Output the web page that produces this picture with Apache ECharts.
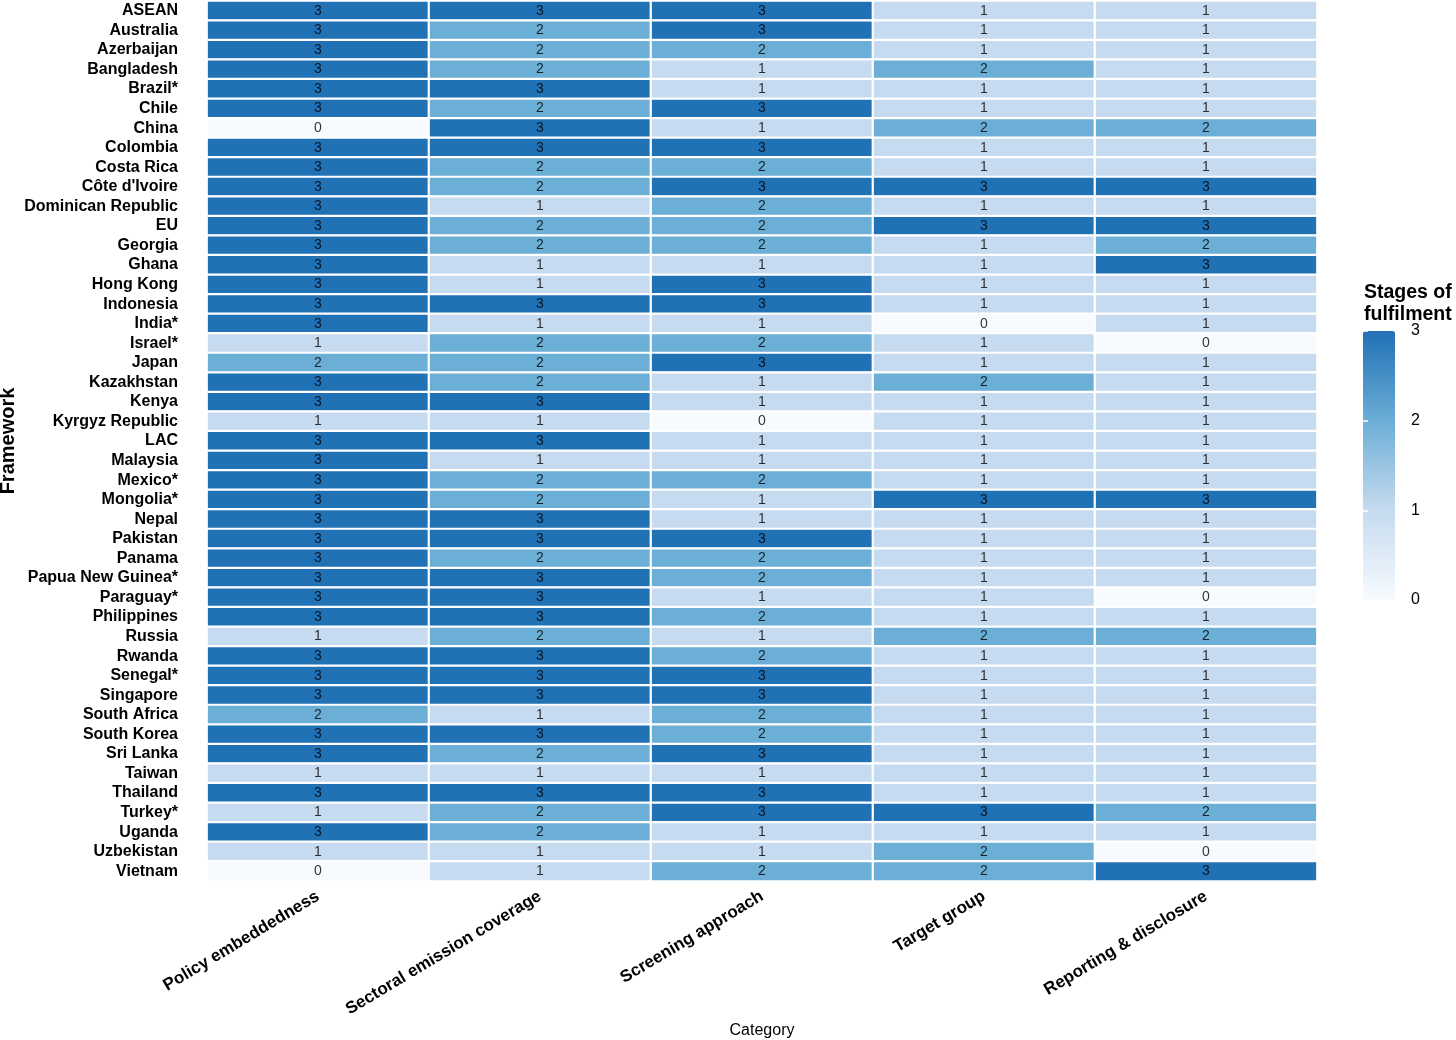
<!DOCTYPE html>
<html>
<head>
<meta charset="utf-8">
<title>Stages of fulfilment</title>
<script src="https://cdn.jsdelivr.net/npm/echarts@6/dist/echarts.min.js"></script>
<style>
    html, body { margin: 0; padding: 0; background: #fff; }
    #chart { width: 1456px; height: 1040px; }
</style>
</head>
<body>
<div id="chart"></div>
<script>
// categories on the x axis
var categories = ['Policy embeddedness', 'Sectoral emission coverage', 'Screening approach', 'Target group', 'Reporting & disclosure'];

// frameworks, top to bottom
var frameworks = ['ASEAN', 'Australia', 'Azerbaijan', 'Bangladesh', 'Brazil*', 'Chile', 'China', 'Colombia', 'Costa Rica',
    "Côte d'Ivoire", 'Dominican Republic', 'EU', 'Georgia', 'Ghana', 'Hong Kong', 'Indonesia', 'India*', 'Israel*', 'Japan',
    'Kazakhstan', 'Kenya', 'Kyrgyz Republic', 'LAC', 'Malaysia', 'Mexico*', 'Mongolia*', 'Nepal', 'Pakistan', 'Panama',
    'Papua New Guinea*', 'Paraguay*', 'Philippines', 'Russia', 'Rwanda', 'Senegal*', 'Singapore', 'South Africa',
    'South Korea', 'Sri Lanka', 'Taiwan', 'Thailand', 'Turkey*', 'Uganda', 'Uzbekistan', 'Vietnam'];

// one array per category, same order as frameworks
var policyEmbeddedness = [3,3,3,3,3,3,0,3,3,3,3,3,3,3,3,3,3,1,2,3,3,1,3,3,3,3,3,3,3,3,3,3,1,3,3,3,2,3,3,1,3,1,3,1,0];
var sectoralCoverage   = [3,2,2,2,3,2,3,3,2,2,1,2,2,1,1,3,1,2,2,2,3,1,3,1,2,2,3,3,2,3,3,3,2,3,3,3,1,3,2,1,3,2,2,1,1];
var screeningApproach  = [3,3,2,1,1,3,1,3,2,3,2,2,2,1,3,3,1,2,3,1,1,0,1,1,2,1,1,3,2,2,1,2,1,2,3,3,2,2,3,1,3,3,1,1,2];
var targetGroup        = [1,1,1,2,1,1,2,1,1,3,1,3,1,1,1,1,0,1,1,2,1,1,1,1,1,3,1,1,1,1,1,1,2,1,1,1,1,1,1,1,1,3,1,2,2];
var reportingDisclosure= [1,1,1,1,1,1,2,1,1,3,1,3,2,3,1,1,1,0,1,1,1,1,1,1,1,3,1,1,1,1,0,1,2,1,1,1,1,1,1,1,1,2,1,0,3];

// legend scale
var stageTicks = [0, 1, 2, 3];
var stageColors = ['#f7fbff', '#c6dbef', '#6baed6', '#2171b5'];

var columns = [policyEmbeddedness, sectoralCoverage, screeningApproach, targetGroup, reportingDisclosure];
var cells = [];
for (var c = 0; c < columns.length; c++) {
    for (var r = 0; r < frameworks.length; r++) {
        cells.push([c, r, columns[c][r]]);
    }
}

var fontFamily = '"Liberation Sans", Arial, Helvetica, sans-serif';

var myChart = echarts.init(document.getElementById('chart'));
var option = {
    backgroundColor: '#fff',
    textStyle: { fontFamily: fontFamily },
    animation: false,
    title: {
        text: 'Stages of\nfulfilment',
        left: 1359,
        top: 277,
        textStyle: { fontSize: 19.5, fontWeight: 'bold', color: '#000', lineHeight: 22, fontFamily: fontFamily }
    },
    grid: [
        { left: 207, top: 1, width: 1110, height: 880, outerBoundsMode: 'none', containLabel: false },
        { left: 1363, top: 331, width: 32, height: 269, outerBoundsMode: 'none', containLabel: false }
    ],
    xAxis: [
        {
            type: 'category',
            gridIndex: 0,
            data: categories,
            position: 'bottom',
            axisLine: { show: false },
            axisTick: { show: false },
            splitLine: { show: false },
            axisLabel: {
                rotate: 31,
                margin: 14,
                fontSize: 17,
                fontWeight: 'bold',
                color: '#000',
                interval: 0
            },
            name: 'Category',
            nameLocation: 'middle',
            nameGap: 142,
            nameMoveOverlap: false,
            nameTextStyle: { fontSize: 16, color: '#000' }
        },
        { type: 'value', gridIndex: 1, show: false, min: 0, max: 1 }
    ],
    yAxis: [
        {
            type: 'category',
            gridIndex: 0,
            data: frameworks,
            inverse: true,
            axisLine: { show: false },
            axisTick: { show: false },
            splitLine: { show: false },
            axisLabel: {
                margin: 29,
                fontSize: 16,
                fontWeight: 'bold',
                color: '#000',
                interval: 0
            },
            name: 'Framework',
            nameLocation: 'middle',
            nameGap: 189,
            nameRotate: 90,
            nameMoveOverlap: false,
            nameTextStyle: { fontSize: 20, fontWeight: 'bold', color: '#000' }
        },
        {
            type: 'value',
            gridIndex: 1,
            position: 'right',
            min: stageTicks[0],
            max: stageTicks[stageTicks.length - 1],
            interval: 1,
            z: 10,
            axisLine: { show: false },
            splitLine: { show: false },
            axisTick: { show: true, inside: true, length: 5, lineStyle: { color: '#fff', width: 1.5 } },
            axisLabel: { margin: 16, fontSize: 16, color: '#000' }
        },
        {
            type: 'value',
            gridIndex: 1,
            position: 'left',
            min: stageTicks[0],
            max: stageTicks[stageTicks.length - 1],
            interval: 1,
            z: 10,
            axisLine: { show: false },
            splitLine: { show: false },
            axisTick: { show: true, inside: true, length: 5, lineStyle: { color: '#fff', width: 1.5 } },
            axisLabel: { show: false }
        }
    ],
    visualMap: {
        type: 'continuous',
        min: stageTicks[0],
        max: stageTicks[stageTicks.length - 1],
        seriesIndex: 0,
        orient: 'vertical',
        left: 1358,
        top: 326,
        padding: 5,
        itemWidth: 32,
        itemHeight: 269,
        calculable: false,
        hoverLink: false,
        text: null,
        showLabel: false,
        inRange: { color: stageColors }
    },
    series: [
        {
            type: 'heatmap',
            xAxisIndex: 0,
            yAxisIndex: 0,
            data: cells,
            itemStyle: { borderColor: '#fff', borderWidth: 2.2 },
            label: {
                show: true,
                fontSize: 14,
                color: 'rgba(0,0,0,0.8)',
                formatter: function (p) { return p.value[2]; }
            },
            emphasis: { disabled: true }
        }
    ]
};
myChart.setOption(option);
</script>
</body>
</html>
